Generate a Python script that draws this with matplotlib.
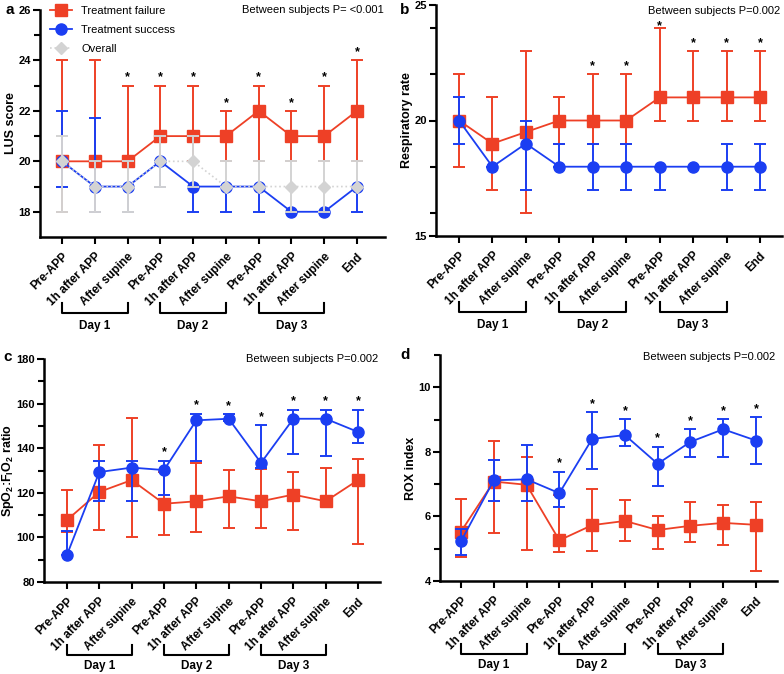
import matplotlib
matplotlib.use("Agg")
import matplotlib.pyplot as plt
import matplotlib.transforms as mtransforms
import numpy as np

plt.rcParams['font.family'] = ['Liberation Sans', 'DejaVu Sans']
plt.rcParams['mathtext.fontset'] = 'custom'
plt.rcParams['mathtext.rm'] = 'Liberation Sans'
plt.rcParams['mathtext.bf'] = 'Liberation Sans:bold'

RED = '#EE4026'
BLUE = '#1B3EF2'
GREY = '#D3D3D3'

timepoints = ['Pre-APP', '1h after APP', 'After supine',
              'Pre-APP', '1h after APP', 'After supine',
              'Pre-APP', '1h after APP', 'After supine', 'End']
days = ['Day 1', 'Day 2', 'Day 3']

# a: LUS score
lus_fail = [20, 20, 20, 21, 21, 21, 22, 21, 21, 22]
lus_fail_lo = [18, 18, 20, 20, 20, 20, 20, 20, 20, 20]
lus_fail_hi = [24, 24, 23, 23, 23, 22, 23, 22, 23, 24]
lus_succ = [20, 19, 19, 20, 19, 19, 19, 18, 18, 19]
lus_succ_lo = [19, 18, 18, 19, 18, 18, 18, 18, 18, 18]
lus_succ_hi = [22, 21.7, 19, 20, 19, 19, 19, 18, 18, 19]
lus_all = [20, 19, 19, 20, 20, 19, 19, 19, 19, 19]
lus_all_lo = [18, 18, 18, 19, 19, 19, 19, 18, 18, 19]
lus_all_hi = [21, 20, 20, 21, 21, 20, 20, 20, 20, 20]
lus_star = [2, 3, 4, 5, 6, 7, 8, 9]

# b: respiratory rate
rr_fail = [20, 19, 19.5, 20, 20, 20, 21, 21, 21, 21]
rr_fail_lo = [18, 17, 16, 19, 19, 19, 20, 20, 20, 20]
rr_fail_hi = [22, 21, 23, 21, 22, 22, 24, 23, 23, 23]
rr_succ = [20, 18, 19, 18, 18, 18, 18, 18, 18, 18]
rr_succ_lo = [19, 18, 17, 18, 17, 17, 17, 18, 17, 17]
rr_succ_hi = [21, 18, 20, 19, 19, 19, 18, 18, 19, 19]
rr_star = [4, 5, 6, 7, 8, 9]

# c: SpO2:FiO2
sf_fail = [107.8, 120.4, 125.7, 115.1, 116.2, 118.4, 116.2, 119.2, 116.2, 125.7]
sf_fail_lo = [102.3, 103.2, 100.3, 101.2, 102.3, 104.2, 104.2, 103.3, 116.2, 97.2]
sf_fail_hi = [121.4, 141.3, 153.4, 129.2, 133.5, 130.2, 130.5, 129.2, 131.3, 135.3]
sf_succ = [92.2, 129.3, 131.3, 130.2, 152.5, 153.2, 133.4, 153.2, 153.2, 147.3]
sf_succ_lo = [92.2, 116.3, 116.3, 119.2, 134.4, 152.3, 131.3, 137.4, 136.4, 142.3]
sf_succ_hi = [103.0, 134.4, 134.4, 134.4, 155.5, 155.3, 150.4, 157.3, 157.3, 157.3]
sf_star = [3, 4, 5, 6, 7, 8, 9]

# d: ROX index
rox_fail = [5.53, 7.08, 6.98, 5.26, 5.73, 5.86, 5.58, 5.71, 5.80, 5.74]
rox_fail_lo = [4.74, 5.50, 4.97, 4.89, 4.92, 5.25, 4.99, 5.20, 5.10, 4.31]
rox_fail_hi = [6.53, 8.33, 7.83, 6.66, 6.86, 6.51, 6.02, 6.45, 6.34, 6.46]
rox_succ = [5.23, 7.12, 7.15, 6.72, 8.40, 8.52, 7.63, 8.31, 8.70, 8.35]
rox_succ_lo = [4.82, 6.48, 6.48, 6.28, 7.48, 8.17, 6.94, 7.83, 7.83, 7.61]
rox_succ_hi = [5.62, 7.74, 8.22, 7.39, 9.22, 9.02, 8.16, 8.70, 9.02, 9.08]
rox_star = [3, 4, 5, 6, 7, 8, 9]

W, H = 784, 674
fig = plt.figure(figsize=(W / 100, H / 100), dpi=100)


def make_axes(left, top, right, bottom, x0, x9):
    ax = fig.add_axes([left / W, 1 - bottom / H, (right - left) / W, (bottom - top) / H])
    step = (x9 - x0) / 9
    ax.set_xlim(-(x0 - left) / step, 9 + (right - x9) / step)
    ax.hpx = bottom - top
    return ax


def series(ax, y, lo, hi, color, marker, ms, z, ls='-', lw=1.3):
    x = np.arange(len(y))
    y = np.array(y, dtype=float)
    err = [y - np.array(lo), np.array(hi) - y]
    ax.errorbar(x, y, yerr=err, fmt='none', ecolor=color, elinewidth=1.4,
                capsize=4.5, capthick=1.4, zorder=z)
    line, = ax.plot(x, y, color=color, ls=ls, lw=lw, marker=marker, ms=ms,
                    mfc=color, mec=color, zorder=z + 0.5)
    return line


def style(ax, ylim, major, minor, ylabel, brk, labelpad=1):
    ax.set_ylim(*ylim)
    ax.set_yticks(major)
    ax.set_yticks(minor, minor=True)
    ax.set_xticks(range(10))
    ax.set_xticklabels(timepoints, rotation=45, ha='right', rotation_mode='anchor',
                       fontsize=8.5, fontweight='bold')
    for lab in ax.get_yticklabels():
        lab.set_fontweight('bold')
        lab.set_fontsize(8)
    ax.spines['top'].set_visible(False)
    ax.spines['right'].set_visible(False)
    for s in ['left', 'bottom']:
        ax.spines[s].set_linewidth(1.8)
    ax.tick_params(axis='x', which='major', length=5, width=1.5, pad=5)
    ax.tick_params(axis='y', which='major', length=5, width=1.5, pad=1.5)
    ax.tick_params(axis='y', which='minor', length=4, width=1.5)
    ax.set_ylabel(ylabel, fontsize=9, fontweight='bold', labelpad=labelpad)
    # day brackets (pixel offsets below the x axis)
    tr = mtransforms.blended_transform_factory(ax.transData, ax.transAxes)
    yb, yt, ytxt = [-v / ax.hpx for v in brk]
    for i, d in enumerate(days):
        a, b = 3 * i, 3 * i + 2
        ax.plot([a, a, b, b], [yt, yb, yb, yt], color='black', lw=1.5,
                transform=tr, clip_on=False)
        ax.text((a + b) / 2, ytxt, d, transform=tr, ha='center', va='center',
                fontsize=8.5, fontweight='bold')


def stars(ax, idx, tops, off=None):
    off = off or {}
    for i in idx:
        ax.annotate('*', (i, tops[i]), xytext=(0, off.get(i, 1.5)), textcoords='offset points',
                    ha='center', va='bottom', fontsize=9, fontweight='bold')


def pval(ax, txt, y=1.0):
    ax.text(0.995, y, txt, transform=ax.transAxes, ha='right', va='center', fontsize=8)


# panel a
ax = make_axes(40, 10, 385, 237, 62, 357)
l1 = series(ax, lus_fail, lus_fail_lo, lus_fail_hi, RED, 's', 8.5, 2)
l2 = series(ax, lus_succ, lus_succ_lo, lus_succ_hi, BLUE, 'o', 8, 3)
l3 = series(ax, lus_all, lus_all_lo, lus_all_hi, GREY, 'D', 6, 4, ls=':', lw=1.2)
style(ax, (17, 26), [18, 20, 22, 24, 26], [19, 21, 23, 25], 'LUS score', (76, 66, 89))
stars(ax, lus_star, lus_fail_hi)
pval(ax, 'Between subjects P= <0.001')
ax.legend([l1, l2, l3], ['Treatment failure', 'Treatment success', 'Overall'],
          loc='upper left', bbox_to_anchor=(0.0, 1.06), frameon=False, fontsize=8,
          handlelength=2.0, labelspacing=0.8)
fig.text(5 / W, 1 - 10 / H, 'a', fontsize=11, fontweight='bold', va='center')

# panel b
ax = make_axes(436, 5, 782, 236, 459, 760)
series(ax, rr_fail, rr_fail_lo, rr_fail_hi, RED, 's', 8.5, 2)
series(ax, rr_succ, rr_succ_lo, rr_succ_hi, BLUE, 'o', 8, 3)
style(ax, (15, 25), [15, 20, 25], [16, 18, 22, 24], 'Respiratory rate', (76, 66, 89))
stars(ax, rr_star, np.maximum(rr_fail_hi, rr_succ_hi), off={6: -3})
pval(ax, 'Between subjects P=0.002', 0.975)
fig.text(400 / W, 1 - 10 / H, 'b', fontsize=11, fontweight='bold', va='center')

# panel c
ax = make_axes(44, 359, 380, 582, 67, 358)
series(ax, sf_fail, sf_fail_lo, sf_fail_hi, RED, 's', 8.5, 2)
series(ax, sf_succ, sf_succ_lo, sf_succ_hi, BLUE, 'o', 8, 3)
style(ax, (80, 180), [80, 100, 120, 140, 160, 180], [90, 110, 130, 150, 170],
      r'$\mathbf{SpO_2}$:$\mathbf{F_IO_2}$ ratio', (73, 63, 84), labelpad=0)
stars(ax, sf_star, np.maximum(sf_fail_hi, sf_succ_hi))
pval(ax, 'Between subjects P=0.002')
fig.text(3 / W, 1 - 357 / H, 'c', fontsize=11, fontweight='bold', va='center')

# panel d
ax = make_axes(440, 355, 777, 581, 461, 756)
series(ax, rox_fail, rox_fail_lo, rox_fail_hi, RED, 's', 8.5, 2)
series(ax, rox_succ, rox_succ_lo, rox_succ_hi, BLUE, 'o', 8, 3)
style(ax, (4, 11), [4, 6, 8, 10], [5, 7, 9, 11], 'ROX index', (73, 63, 84))
stars(ax, rox_star, np.maximum(rox_fail_hi, rox_succ_hi))
pval(ax, 'Between subjects P=0.002', 0.99)
fig.text(400 / W, 1 - 355 / H, 'd', fontsize=11, fontweight='bold', va='center')

fig.savefig('out.png', dpi=100)
